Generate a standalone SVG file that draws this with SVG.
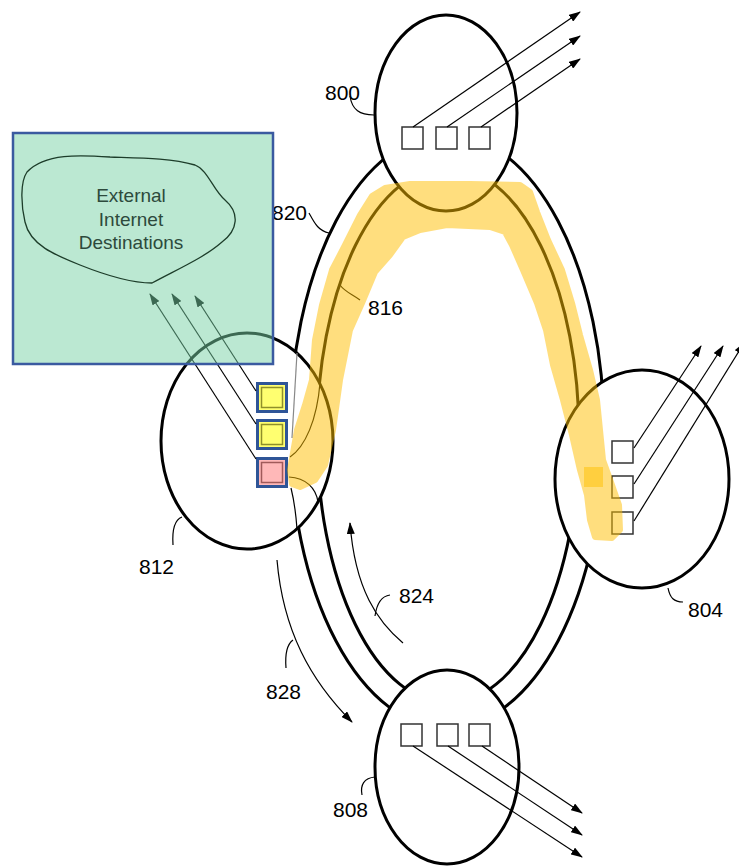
<svg xmlns="http://www.w3.org/2000/svg" width="739" height="867" viewBox="0 0 739 867">
<defs>
<marker id="ah" viewBox="0 0 12 8" refX="11" refY="4" markerWidth="12" markerHeight="8" markerUnits="userSpaceOnUse" orient="auto">
<path d="M0,0 L12,4 L0,8 Z" fill="#000"/>
</marker>
<style>
.ring{fill:none;stroke:#000;stroke-width:3}
.node{fill:#fff;stroke:#000;stroke-width:3}
.box{fill:#fff;stroke:#333;stroke-width:1.5}
.arr{fill:none;stroke:#000;stroke-width:1.2;marker-end:url(#ah)}
.lead{fill:none;stroke:#000;stroke-width:1.2}
.thin{fill:none;stroke:#000;stroke-width:1.2}
.lbl{font-family:"Liberation Sans",Arial,sans-serif;font-size:21px;fill:#000}
.ybox{fill:#ffff70;stroke:#2f5597;stroke-width:3}
.pbox{fill:#ffb8b8;stroke:#2f5597;stroke-width:3}
</style>
</defs>
<rect width="739" height="867" fill="#fff"/>

<g id="ring">
<ellipse class="ring" cx="447" cy="431" rx="157" ry="297"/>
<ellipse class="ring" cx="448" cy="435" rx="131" ry="268"/>
</g>

<g id="node800">
<ellipse class="node" cx="446" cy="113" rx="71" ry="98"/>
<rect class="box" x="402" y="127" width="21" height="22"/>
<rect class="box" x="436" y="127" width="21" height="22"/>
<rect class="box" x="469" y="127" width="21" height="22"/>
<path class="lead" d="M350,96 C352,110 360,115 374,115"/>
<text class="lbl" x="325" y="100">800</text>
</g>

<g id="node804">
<ellipse class="node" cx="642" cy="479" rx="87" ry="109"/>
<rect class="box" x="612" y="441" width="21" height="22"/>
<rect class="box" x="612" y="476" width="21" height="22"/>
<rect class="box" x="612" y="512" width="21" height="22"/>
<path class="lead" d="M668,588 C670,598 674,602 683,602"/>
<text class="lbl" x="688" y="617">804</text>
</g>

<g id="node808">
<ellipse class="node" cx="447" cy="767" rx="72" ry="97"/>
<rect class="box" x="401" y="724" width="21" height="22"/>
<rect class="box" x="437" y="724" width="21" height="22"/>
<rect class="box" x="469" y="724" width="21" height="22"/>
<path class="lead" d="M362,795 C360,785 364,778 375,777"/>
<text class="lbl" x="333" y="817">808</text>
</g>

<g id="node812">
<ellipse class="node" cx="247" cy="441" rx="86" ry="108"/>
<path d="M297,353 L292,438" fill="none" stroke="#888" stroke-width="1.2"/>
<path class="thin" d="M320,383 C317,420 305,447 290,457"/>
<path class="thin" d="M289,477 C306,478 316,488 318,502"/>
<path class="thin" d="M291,488 C294,500 296,515 297,529"/>
<rect class="ybox" x="257.5" y="383.5" width="29" height="28"/>
<rect x="261.5" y="387.5" width="21" height="20" fill="none" stroke="#8f8f2a" stroke-width="1.5"/>
<rect class="ybox" x="257.5" y="420.5" width="29" height="28"/>
<rect x="261.5" y="424.5" width="21" height="20" fill="none" stroke="#8f8f2a" stroke-width="1.5"/>
<rect class="pbox" x="257.5" y="458.5" width="29" height="28"/>
<rect x="261.5" y="462.5" width="21" height="20" fill="none" stroke="#a05a5a" stroke-width="1.5"/>
<path class="lead" d="M173,545 C172,530 174,520 182,517"/>
<text class="lbl" x="139" y="574">812</text>
</g>

<g id="connectors">
<path class="arr" d="M413,127 L580,12"/>
<path class="arr" d="M447,127 L580,36"/>
<path class="arr" d="M481,127 L580,59"/>
<path class="arr" d="M634,448 L701,346"/>
<path class="arr" d="M634,484 L723,346"/>
<path class="arr" d="M634,521 L744,343"/>
<path class="arr" d="M413,746 L582,857"/>
<path class="arr" d="M448,746 L582,835"/>
<path class="arr" d="M482,746 L582,813"/>
<path class="arr" d="M256,391 L195,296"/>
<path class="arr" d="M256,424 L172,294"/>
<path class="arr" d="M256,459 L150,294"/>
<path class="arr" d="M403,643 C378,622 355,590 350,523"/>
<path class="arr" d="M277,560 C283,630 310,680 352,722"/>
</g>

<g id="labels">
<path class="lead" d="M309,213 C314,222 318,231 329,233"/>
<text class="lbl" x="272" y="220">820</text>
<path class="lead" d="M360,300 C352,294 345,292 340,285"/>
<text class="lbl" x="368" y="315">816</text>
<path class="lead" d="M390,595 C382,596 377,602 375,616"/>
<text class="lbl" x="399" y="603">824</text>
<path class="lead" d="M286,668 C285,655 286,645 293,640"/>
<text class="lbl" x="266" y="699">828</text>
</g>

<g id="path816" opacity="0.5">
<path d="M292,484 L290,470 L297,430 L305,405 L312,380 L315,340 L322,305 L332,270 L345,245 L360,215 L372,196 L385,188 L410,184 L470,184 L520,185 L530,192 L537,212 L548,240 L562,270 L572,303 L580,335 L590,370 L597,400 L600,430 L603,460 L612,485 L619,505 L620,530 L612,538 L595,537 L590,520 L587,495 L580,470 L572,435 L563,400 L553,365 L546,330 L537,303 L523,270 L512,245 L505,232 L490,227 L447,225 L420,230 L403,237 L390,255 L375,272 L362,303 L350,330 L340,380 L333,430 L325,465 L315,480 L300,487 Z" fill="#ffbf00" stroke="#ffbf00" stroke-width="6" stroke-linejoin="round"/>
</g>
<rect x="584" y="467" width="19" height="20" fill="#ffbf00" opacity="0.5"/>

<g id="external">
<rect x="13" y="133" width="260" height="231" fill="#78d2a5" opacity="0.5"/>
<rect x="13" y="133" width="260" height="231" fill="none" stroke="#3a5aa0" stroke-width="2.5"/>
<path d="M27,172 C45,153 80,155 110,157 C140,158 170,158 195,165 C208,170 213,190 225,200 C240,213 238,230 222,242 C205,257 180,268 152,283 C130,283 105,275 80,265 C55,255 30,245 25,222 C21,205 20,182 27,172 Z" fill="none" stroke="#1d3d2a" stroke-width="1.3"/>
<g font-family="Liberation Sans,Arial,sans-serif" font-size="19" fill="#2d4a3c" text-anchor="middle">
<text x="131" y="202">External</text>
<text x="131" y="226">Internet</text>
<text x="131" y="249">Destinations</text>
</g>
</g>
</svg>
